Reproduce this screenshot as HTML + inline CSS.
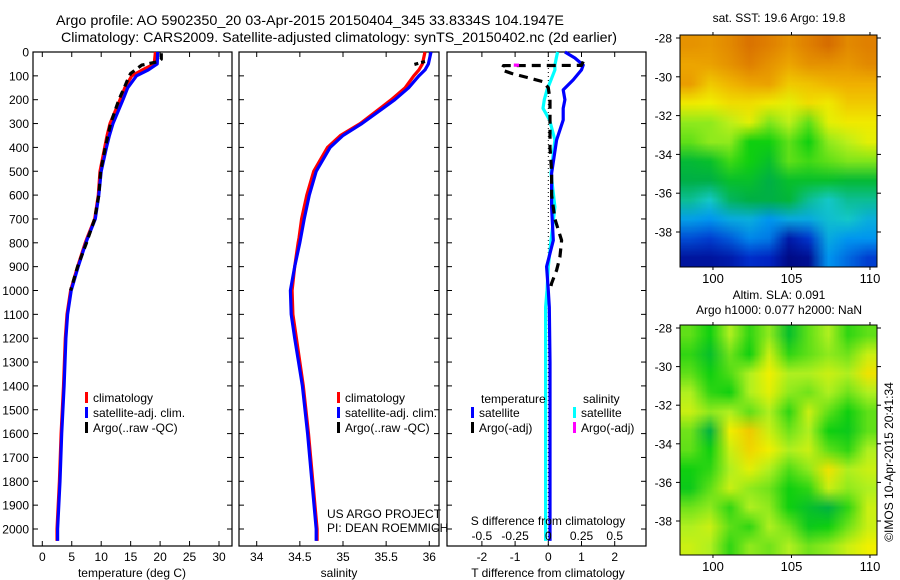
<!DOCTYPE html>
<html><head><meta charset="utf-8">
<style>
html,body{margin:0;padding:0;background:#fff;}
svg{display:block;font-family:"Liberation Sans",sans-serif;}
text{fill:#000;}
</style></head>
<body>
<svg id="fig" width="900" height="580" viewBox="0 0 900 580" xmlns="http://www.w3.org/2000/svg">
<text x="310" y="25" font-size="14" text-anchor="middle" textLength="508" lengthAdjust="spacingAndGlyphs">Argo profile: AO 5902350_20 03-Apr-2015 20150404_345 33.8334S 104.1947E</text>
<text x="339" y="42" font-size="14" text-anchor="middle" textLength="556" lengthAdjust="spacingAndGlyphs">Climatology: CARS2009. Satellite-adjusted climatology: synTS_20150402.nc (2d earlier)</text>
<g id="g1"></g>
<g id="g2"></g>
<g id="g3"></g>
<text x="779" y="22" font-size="12" text-anchor="middle">sat. SST: 19.6 Argo: 19.8</text>
<text x="779" y="299" font-size="12" text-anchor="middle">Altim. SLA: 0.091</text>
<text x="779" y="314" font-size="12" text-anchor="middle">Argo h1000: 0.077 h2000: NaN</text>
<foreignObject x="680" y="35" width="197" height="232"><canvas xmlns="http://www.w3.org/1999/xhtml" id="c1" width="197" height="232"></canvas></foreignObject>
<foreignObject x="680" y="325" width="197" height="230"><canvas xmlns="http://www.w3.org/1999/xhtml" id="c2" width="197" height="230"></canvas></foreignObject>
<g id="gm"></g>
<text transform="translate(893,462) rotate(-90)" font-size="12" text-anchor="middle">©IMOS 10-Apr-2015 20:41:34</text>
</svg>
<script>
// ---------- data ----------
const depthClim=[0,50,75,100,150,200,300,350,400,500,600,700,780,800,900,1000,1100,1200,1400,1600,1800,2000,2050];
const tempClim=[19.2,19.0,17.0,15.2,14.0,13.2,11.5,11.0,10.6,9.8,9.5,8.9,7.6,7.3,6.0,4.8,4.2,3.9,3.6,3.2,2.9,2.5,2.5];
const tempSat=[19.6,19.5,18.0,16.0,14.5,13.7,12.0,11.4,10.9,10.0,9.6,9.0,7.7,7.4,6.1,4.9,4.3,4.0,3.7,3.3,3.0,2.6,2.6];
const depthArgo=[5,30,40,55,60,75,90,110,150,200,300,400,500,600,700,800,900,1000];
const tempArgo=[20.2,20.2,19.8,16.9,16.6,15.8,15.0,14.6,13.9,13.0,11.6,10.7,9.9,9.6,8.9,7.5,6.0,4.8];
const salClim=[35.95,35.92,35.88,35.82,35.72,35.56,35.2,34.97,34.82,34.66,34.58,34.52,34.49,34.48,34.44,34.41,34.42,34.46,34.54,34.6,34.65,34.7,34.7];
const salSat=[36.02,35.99,35.95,35.88,35.76,35.6,35.22,35.0,34.85,34.69,34.61,34.55,34.51,34.5,34.44,34.39,34.40,34.44,34.53,34.59,34.64,34.69,34.69];
const depthSalArgo=[40,55];
const salArgo=[35.95,35.8];
const depthDiff=[0,25,55,75,117,159,200,236,285,369,508,650,790,900,1000,1070,1300,1600,2000,2050];
const dTsat=[0.5,0.8,1.05,1.0,0.75,0.45,0.5,0.45,0.45,0.25,0.1,0.1,0.15,-0.05,0.0,0.03,0.05,0.05,0.05,0.05];
const dSsat=[0.07,0.06,0.05,0.05,0.02,-0.01,-0.03,-0.04,0.01,0.05,0.02,0.05,0.02,0.0,-0.01,-0.02,-0.02,-0.02,-0.02,-0.02];
const depthTArgo=[40,56,57,75,90,110,125,150,200,300,400,500,600,700,790,860,915,970,1000];
const dTargo=[1.05,1.0,-1.35,-1.4,-1.1,-0.55,-0.15,0,0.05,0.05,0.05,0.1,0.1,0.2,0.4,0.35,0.25,0.1,0.05];
const depthSArgo=[55,55.5];
const dSargo=[-0.26,-0.22];
const depthTicks=[0,100,200,300,400,500,600,700,800,900,1000,1100,1200,1300,1400,1500,1600,1700,1800,1900,2000];
const tempTicks=[0,5,10,15,20,25,30];
const salTicks=[34,34.5,35,35.5,36];
const salTickLabels=["34","34.5","35","35.5","36"];
const dTTicks=[-2,-1,0,1,2];
const dSTicks=[-0.5,-0.25,0,0.25,0.5];
const latTicks=[-28,-30,-32,-34,-36,-38];
const lonTicks=[100,105,110];
const sstGrid=[
[.86,.85,.88,.92,.9,.86,.9,.93,.88,.9],
[.82,.83,.86,.9,.86,.82,.86,.86,.85,.88],
[.84,.76,.79,.82,.83,.76,.77,.79,.8,.8],
[.71,.7,.73,.73,.71,.69,.73,.71,.76,.76],
[.63,.63,.66,.69,.62,.66,.6,.69,.71,.71],
[.6,.63,.63,.55,.55,.6,.55,.63,.66,.69],
[.48,.5,.58,.55,.5,.6,.58,.6,.62,.62],
[.45,.45,.5,.5,.45,.5,.5,.5,.48,.48],
[.42,.4,.44,.45,.45,.47,.42,.4,.42,.42],
[.32,.3,.34,.35,.3,.34,.34,.38,.4,.35],
[.2,.18,.22,.28,.26,.1,.17,.34,.3,.3],
[.08,.08,.1,.16,.14,.04,.06,.3,.24,.18]];
const slaGrid=[
[.6,.55,.65,.57,.63,.5,.6,.65,.57,.6],
[.57,.5,.61,.55,.67,.57,.6,.63,.61,.67],
[.6,.55,.59,.65,.7,.65,.65,.67,.65,.72],
[.65,.57,.55,.65,.69,.63,.61,.65,.61,.65],
[.67,.63,.65,.6,.65,.57,.67,.6,.55,.6],
[.61,.46,.7,.76,.67,.61,.65,.55,.53,.6],
[.6,.55,.67,.74,.7,.65,.67,.6,.57,.65],
[.55,.57,.65,.69,.65,.59,.63,.72,.65,.67],
[.53,.6,.67,.63,.61,.55,.57,.67,.63,.65],
[.61,.63,.57,.65,.63,.55,.5,.46,.57,.67],
[.65,.67,.6,.57,.65,.61,.53,.55,.61,.67],
[.67,.65,.57,.63,.61,.65,.61,.63,.67,.7]];

const NS='http://www.w3.org/2000/svg';
function mk(p,tag,attrs,txt){const e=document.createElementNS(NS,tag);for(const k in attrs)e.setAttribute(k,attrs[k]);if(txt!==undefined)e.textContent=txt;p.appendChild(e);return e;}
const Y0=52,Y1=546;
const yD=d=>Y0+d*0.2385;
const xT=t=>42.3+t*5.89;
const xS=s=>256.7+(s-34)*86.3;
const xDT=t=>548.3+t*33.2;
const xDS=s=>548.3+s*132.8;

function frame(g,x0,x1,labels){
  mk(g,'rect',{x:x0,y:Y0,width:x1-x0,height:Y1-Y0,fill:'none',stroke:'#000','stroke-width':1.2});
  depthTicks.forEach(d=>{const y=yD(d);
    mk(g,'line',{x1:x0,x2:x0+5,y1:y,y2:y,stroke:'#000'});
    mk(g,'line',{x1:x1-5,x2:x1,y1:y,y2:y,stroke:'#000'});
    if(labels){const t=mk(g,'text',{x:x0-4,y:y+4.5,'font-size':12,'text-anchor':'end'},String(d));
      
      }
  });
}
function xticks(g,ticks,fx,labels){
  ticks.forEach((v,i)=>{const x=fx(v);
    mk(g,'line',{x1:x,x2:x,y1:Y0,y2:Y0+5,stroke:'#000'});
    mk(g,'line',{x1:x,x2:x,y1:Y1-5,y2:Y1,stroke:'#000'});
    const t=mk(g,'text',{x:x,y:561,'font-size':12,'text-anchor':'middle'},labels?labels[i]:String(v));
    
    
  });
}
function line(g,ds,vs,fx,color,name,dash,w){
  const pts=ds.map((d,i)=>fx(vs[i]).toFixed(1)+','+yD(d).toFixed(1)).join(' ');
  const a={points:pts,fill:'none',stroke:color,'stroke-width':w||3.2,'stroke-linejoin':'round'};
  if(dash)a['stroke-dasharray']=dash;
  const e=mk(g,'polyline',a);
  
  
}
function legend(g,x,y,items){
  items.forEach((it,i)=>{
    mk(g,'rect',{x:x,y:y+i*15-6,width:3,height:11,fill:it[1]});
    const t=mk(g,'text',{x:x+8,y:y+i*15+4,'font-size':12},it[0]);
    
    
  });
}
const g1=document.getElementById('g1');
frame(g1,33,232,true);xticks(g1,tempTicks,xT);
line(g1,depthClim,tempClim,xT,'#ff0000','temp-climatology-line');
line(g1,depthClim,tempSat,xT,'#0000ff','temp-satellite-line');
line(g1,depthArgo,tempArgo,xT,'#000','temp-argo-line','7,5');
legend(g1,85,398,[['climatology','#f00'],['satellite-adj. clim.','#00f'],['Argo(..raw -QC)','#000']]);
mk(g1,'text',{x:132,y:577,'font-size':12,'text-anchor':'middle'},'temperature (deg C)');
const g2=document.getElementById('g2');
frame(g2,239,439,false);xticks(g2,salTicks,xS,salTickLabels);
line(g2,depthClim,salClim,xS,'#ff0000','sal-climatology-line');
line(g2,depthClim,salSat,xS,'#0000ff','sal-satellite-line');
line(g2,depthSalArgo,salArgo,xS,'#000','sal-argo-line','4,3');
legend(g2,337,398,[['climatology','#f00'],['satellite-adj. clim.','#00f'],['Argo(..raw -QC)','#000']]);
mk(g2,'text',{x:327,y:518,'font-size':12},'US ARGO PROJECT');
mk(g2,'text',{x:327,y:532,'font-size':12},'PI: DEAN ROEMMICH');
mk(g2,'text',{x:339,y:577,'font-size':12,'text-anchor':'middle'},'salinity');
const g3=document.getElementById('g3');
frame(g3,447,646,false);xticks(g3,dTTicks,xDT);
mk(g3,'line',{x1:548.3,x2:548.3,y1:Y0,y2:Y1,stroke:'#000','stroke-dasharray':'1,3'});
line(g3,depthDiff,dSsat,xDS,'#00ffff','dsal-satellite-line');
line(g3,depthDiff,dTsat,xDT,'#0000ff','dtemp-satellite-line');
line(g3,depthTArgo,dTargo,xDT,'#000','dtemp-argo-line','9,6');
line(g3,depthSArgo,dSargo,xDS,'#ff00ff','dsal-argo-line');
mk(g3,'text',{x:481,y:403,'font-size':12},'temperature');
mk(g3,'text',{x:583,y:403,'font-size':12},'salinity');
legend(g3,471,413,[['satellite','#00f'],['Argo(-adj)','#000']]);
legend(g3,573,413,[['satellite','#0ff'],['Argo(-adj)','#f0f']]);
mk(g3,'text',{x:548,y:525,'font-size':12,'text-anchor':'middle'},'S difference from climatology');
dSTicks.forEach(v=>{const t=mk(g3,'text',{x:xDS(v),y:540,'font-size':12,'text-anchor':'middle'},String(v));
  
  });
mk(g3,'text',{x:548,y:577,'font-size':12,'text-anchor':'middle'},'T difference from climatology');

const cstops=[[0,[0,0,110]],[.15,[0,40,200]],[.3,[0,150,240]],[.4,[20,200,200]],[.45,[0,176,70]],[.55,[16,208,16]],[.65,[176,240,32]],[.7,[240,240,0]],[.8,[240,176,0]],[.9,[224,128,0]],[1,[192,64,0]]];
function cmap(v){for(let i=1;i<cstops.length;i++){if(v<=cstops[i][0]){const a=cstops[i-1],b=cstops[i],f=(v-a[0])/(b[0]-a[0]);return a[1].map((c,k)=>Math.round(c+(b[1][k]-c)*f));}}return cstops[cstops.length-1][1];}
function drawMap(id,grid){
  const c=document.getElementById(id),ctx=c.getContext('2d');
  const rows=grid.length,cols=grid[0].length;
  const sm=document.createElement('canvas');sm.width=cols;sm.height=rows;
  const sx=sm.getContext('2d');const im=sx.createImageData(cols,rows);
  grid.forEach((r,i)=>r.forEach((v,j)=>{const col=cmap(v);const k=(i*cols+j)*4;im.data[k]=col[0];im.data[k+1]=col[1];im.data[k+2]=col[2];im.data[k+3]=255;}));
  sx.putImageData(im,0,0);
  ctx.imageSmoothingEnabled=true;
  ctx.drawImage(sm,0,0,cols,rows,0,0,c.width,c.height);
}
drawMap('c1',sstGrid);drawMap('c2',slaGrid);
const gm=document.getElementById('gm');
const xLon=l=>680+(l-97.9)*15.7;
[[35,267,38,19.4,'sst'],[325,555,328,19.3,'sla']].forEach(m=>{
  const [t,b,y28,py,n]=m;
  mk(gm,'rect',{x:680,y:t,width:197,height:b-t,fill:'none',stroke:'#000'});
  latTicks.forEach(l=>{const y=y28+(-28-l)*py;
    mk(gm,'line',{x1:676,x2:680,y1:y,y2:y,stroke:'#000'});
    mk(gm,'line',{x1:877,x2:881,y1:y,y2:y,stroke:'#000'});
    const e=mk(gm,'text',{x:672,y:y+4.5,'font-size':12,'text-anchor':'end'},String(l));
    
    });
  lonTicks.forEach(l=>{const x=xLon(l);
    mk(gm,'line',{x1:x,x2:x,y1:t-3,y2:t,stroke:'#000'});
    mk(gm,'line',{x1:x,x2:x,y1:b,y2:b+3,stroke:'#000'});
    const e=mk(gm,'text',{x:x,y:b+16,'font-size':13,'text-anchor':'middle'},String(l));
    
    });
});
</script>
</body></html>
